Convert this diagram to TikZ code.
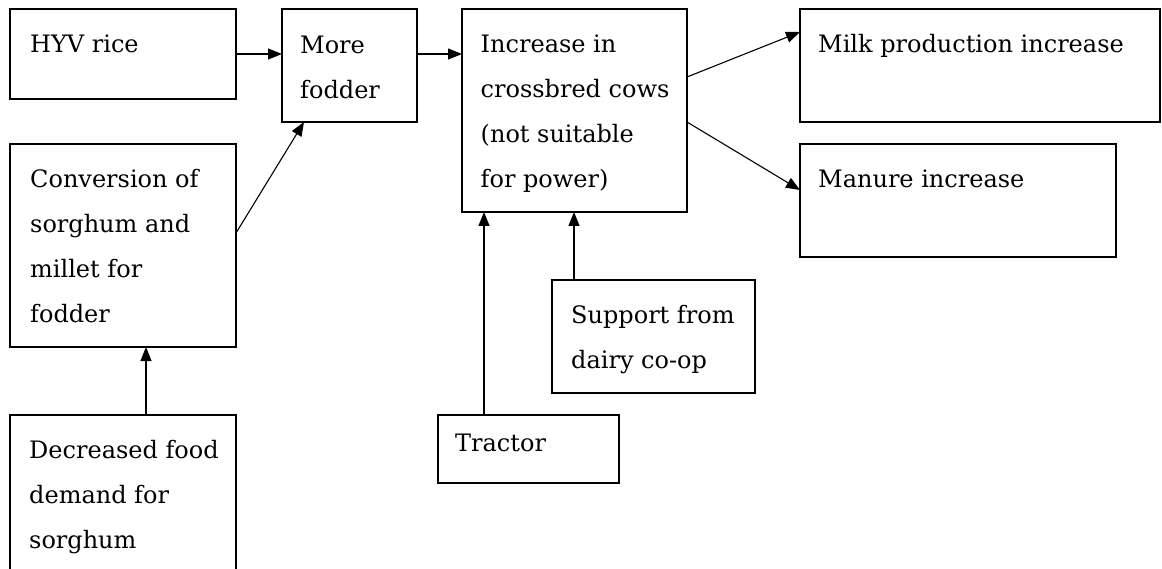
\documentclass[tikz,border=0pt]{standalone}
\usepackage{fontspec}
\setmainfont{DejaVu Serif}
\usetikzlibrary{arrows.meta,calc}
\begin{document}
\begin{tikzpicture}[x=1pt,y=-1pt,
  box/.style={draw, line width=1.3pt, anchor=north west, inner sep=0pt, outer sep=0pt},
  txt/.style={anchor=north west, inner sep=0pt, align=left, font=\fontsize{24}{45}\selectfont},
  arr/.style={-{Triangle[length=14pt,width=11pt]}, line width=1.1pt}]
\clip (0,0) rectangle (1162,569);
\fill[white] (0,0) rectangle (1162,569);
% boxes
\node[box, minimum width=226pt, minimum height=90pt]  (hyv)     at (10,9)    {};
\node[box, minimum width=135pt, minimum height=113pt] (more)    at (282,9)   {};
\node[box, minimum width=225pt, minimum height=203pt] (incr)    at (462,9)   {};
\node[box, minimum width=360pt, minimum height=113pt] (milk)    at (800,9)   {};
\node[box, minimum width=316pt, minimum height=113pt] (manure)  at (800,144) {};
\node[box, minimum width=226pt, minimum height=203pt] (conv)    at (10,144)  {};
\node[box, minimum width=226pt, minimum height=200pt] (dec)     at (10,415)  {};
\node[box, minimum width=203pt, minimum height=113pt] (support) at (552,280) {};
\node[box, minimum width=181pt, minimum height=68pt]  (tractor) at (438,415) {};
% texts
\node[txt] (hyvT)     at (30,31)    {\rule{0pt}{21pt}HYV rice};
\node[txt] (moreT)    at (300,32)   {\rule{0pt}{21pt}More\\fodder};
\node[txt] (incrT)    at (480.5,31) {\rule{0pt}{21pt}Increase in\\crossbred cows\\(not suitable\\for power)};
\node[txt] (milkT)    at (818,31)   {\rule{0pt}{21pt}Milk production increase};
\node[txt] (manureT)  at (818,166)  {\rule{0pt}{21pt}Manure increase};
\node[txt] (convT)    at (30,166)   {\rule{0pt}{21pt}Conversion of\\sorghum and\\millet for\\fodder};
\node[txt] (decT)     at (29,437)   {\rule{0pt}{21pt}Decreased food\\demand for\\sorghum};
\node[txt] (supportT) at (571,302)  {\rule{0pt}{21pt}Support from\\dairy co-op};
\node[txt] (tractorT) at (455,430)  {\rule{0pt}{21pt}Tractor};
% connectors
\coordinate (m1) at ($(more.north east)+(0,45)$);
\draw[arr] (hyv.east) -- (hyv.east -| more.west);
\draw[arr] (m1) -- (m1 -| incr.west);
\draw[arr] ($(conv.north east)+(0,89)$) -- ($(more.south west)+(22,0)$);
\draw[arr] ($(incr.north east)+(0,68)$) -- ($(milk.north west)+(0,23)$);
\draw[arr] ($(incr.north east)+(0,113)$) -- ($(manure.north west)+(0,46)$);
\draw[arr] ($(dec.north west)+(136,0)$) -- ($(conv.south west)+(136,0)$);
\draw[arr] ($(tractor.north west)+(46,0)$) -- ($(incr.south west)+(22,0)$);
\draw[arr] ($(support.north west)+(22,0)$) -- ($(incr.south west)+(112,0)$);
\end{tikzpicture}
\end{document}
